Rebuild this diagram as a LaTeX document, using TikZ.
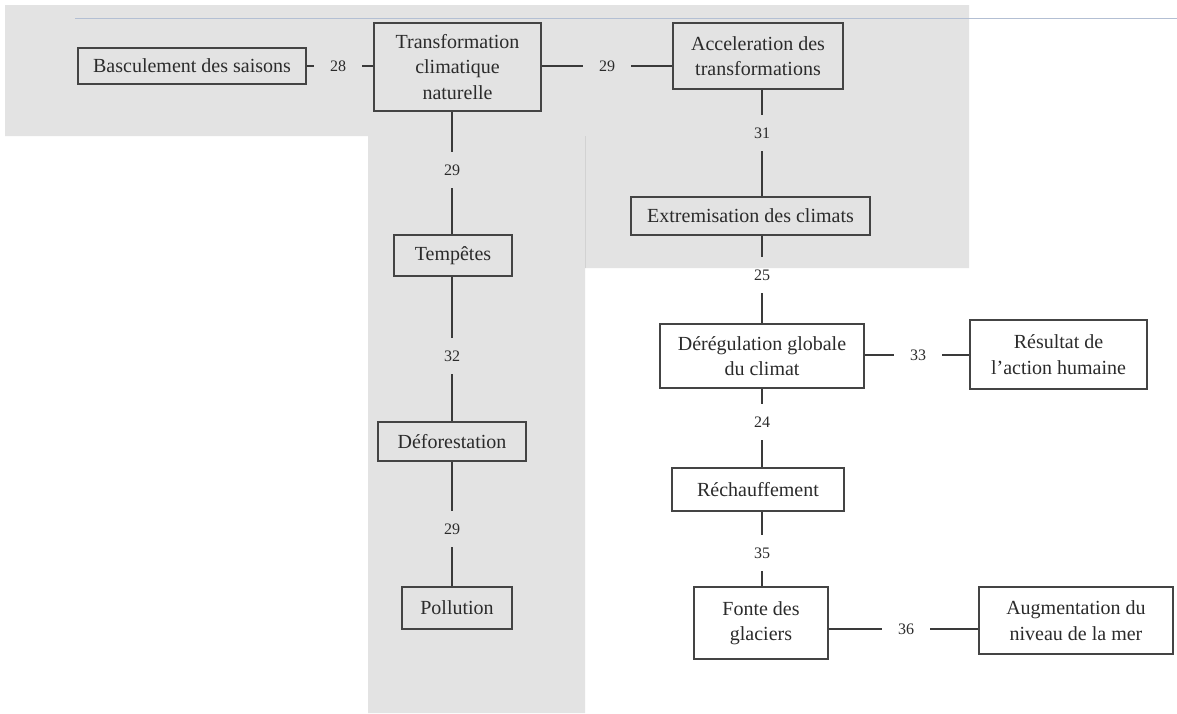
\documentclass[tikz,border=0pt]{standalone}
\usepackage{fontspec}
\setmainfont{Liberation Serif}
\definecolor{bggrey}{HTML}{E3E3E3}
\definecolor{bgedge}{HTML}{D2D2D2}
\definecolor{rulec}{HTML}{B3BFD3}
\definecolor{boxc}{HTML}{444444}
\definecolor{linec}{HTML}{3A3A3A}
\definecolor{txt}{HTML}{2B2B2B}
\tikzset{
  box/.style={draw=boxc, line width=1.4pt, inner sep=0pt, align=center, text=txt,
    font=\fontsize{20}{25.5}\selectfont},
  lab/.style={inner sep=0pt, minimum width=48pt, minimum height=36pt, text=txt,
    font=\fontsize{16}{16}\selectfont},
  conn/.style={draw=linec, line width=1.3pt}
}
\begin{document}
\begin{tikzpicture}[x=1pt, y=-1pt]
\useasboundingbox (0,0) rectangle (1177,713);
\fill[white] (0,0) rectangle (1177,713);
% grey area behind the upper-left part
\fill[bggrey] (5,5) -- (969,5) -- (969,268) -- (585,268) -- (585,713)
  -- (368,713) -- (368,136) -- (5,136) -- cycle;
\draw[bgedge, line width=0.8pt] (585,136) -- (585,268);
% thin rule across the top
\draw[rulec, line width=1pt] (75,18) -- (1177,18);

% boxes
\node[box, minimum width=228pt, minimum height=36pt] (bas) at (192,66) {Basculement des saisons};
\node[box, minimum width=167pt, minimum height=88pt] (tcn) at (457.5,67) {Transformation\\climatique\\naturelle};
\node[box, minimum width=170pt, minimum height=66pt] (acc) at (758,56) {Acceleration des\\transformations};
\node[box, minimum width=239pt, minimum height=38pt] (ext) at (750.5,216) {Extremisation des climats};
\node[box, minimum width=118pt, minimum height=41pt] (tem) at (453,255.5) {Tempêtes};
\node[box, minimum width=148pt, minimum height=39pt] (def) at (452,441.5) {Déforestation};
\node[box, minimum width=110pt, minimum height=42pt] (pol) at (457,608) {Pollution};
\node[box, minimum width=204pt, minimum height=64pt] (der) at (762,356) {Dérégulation globale\\du climat};
\node[box, minimum width=177pt, minimum height=69pt] (res) at (1058.5,354.5) {Résultat de\\l’action humaine};
\node[box, minimum width=172pt, minimum height=43pt] (rec) at (758,489.5) {Réchauffement};
\node[box, minimum width=134pt, minimum height=72pt] (fon) at (761,623) {Fonte des\\glaciers};
\node[box, minimum width=194pt, minimum height=67pt] (aug) at (1076,620.5) {Augmentation du\\niveau de la mer};

% connector labels
\node[lab] (l28) at (338,66) {28};
\node[lab] (l29a) at (607,66) {29};
\node[lab] (l31) at (762,133) {31};
\node[lab] (l29b) at (452,170) {29};
\node[lab] (l25) at (762,275) {25};
\node[lab] (l32) at (452,356) {32};
\node[lab] (l29c) at (452,529) {29};
\node[lab] (l33) at (918,355) {33};
\node[lab] (l24) at (762,422) {24};
\node[lab] (l35) at (762,553) {35};
\node[lab] (l36) at (906,629) {36};

% connectors
\draw[conn] (bas.east |- l28) -- (l28) -- (l28 -| tcn.west);
\draw[conn] (tcn.east |- l29a) -- (l29a) -- (l29a -| acc.west);
\draw[conn] (acc.south -| l31) -- (l31) -- (ext.north -| l31);
\draw[conn] (tcn.south -| l29b) -- (l29b) -- (tem.north -| l29b);
\draw[conn] (tem.south -| l32) -- (l32) -- (def.north -| l32);
\draw[conn] (def.south -| l29c) -- (l29c) -- (pol.north -| l29c);
\draw[conn] (ext.south -| l25) -- (l25) -- (der.north -| l25);
\draw[conn] (der.east |- l33) -- (l33) -- (l33 -| res.west);
\draw[conn] (der.south -| l24) -- (l24) -- (rec.north -| l24);
\draw[conn] (rec.south -| l35) -- (l35) -- (fon.north -| l35);
\draw[conn] (fon.east |- l36) -- (l36) -- (l36 -| aug.west);
\end{tikzpicture}
\end{document}
